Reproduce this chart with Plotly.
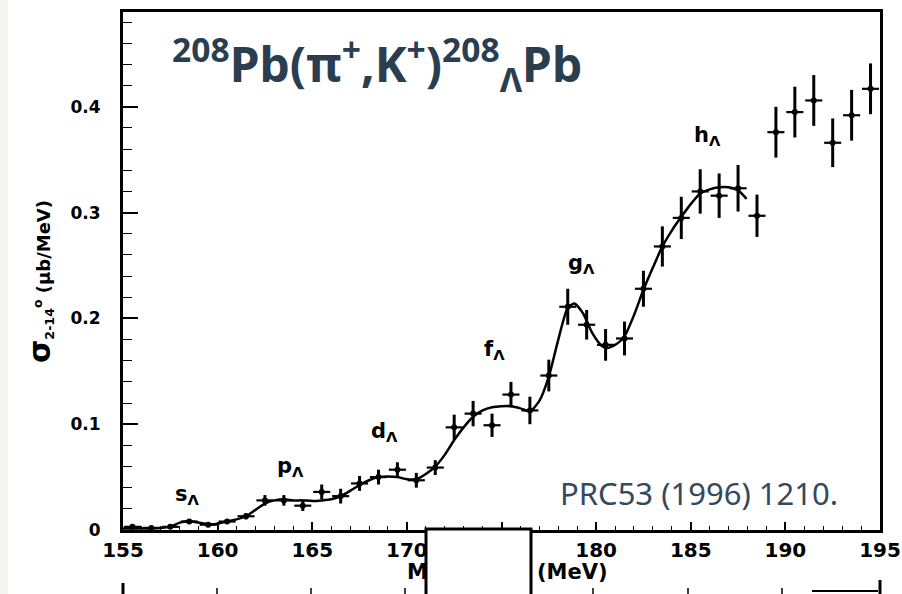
import plotly.graph_objects as go

# ---------------- data ----------------
energy = [155.5, 156.5, 157.5, 158.5, 159.5, 160.5, 161.5, 162.5, 163.5, 164.5,
          165.5, 166.5, 167.5, 168.5, 169.5, 170.5, 171.5, 172.5, 173.5, 174.5,
          175.5, 176.5, 177.5, 178.5, 179.5, 180.5, 181.5, 182.5, 183.5, 184.5,
          185.5, 186.5, 187.5, 188.5, 189.5, 190.5, 191.5, 192.5, 193.5, 194.5]
sigma = [0.003, 0.002, 0.003, 0.008, 0.005, 0.008, 0.013, 0.028, 0.028, 0.023,
         0.036, 0.032, 0.044, 0.050, 0.057, 0.047, 0.059, 0.097, 0.110, 0.099,
         0.128, 0.113, 0.146, 0.211, 0.194, 0.175, 0.181, 0.228, 0.268, 0.295,
         0.320, 0.316, 0.323, 0.297, 0.376, 0.395, 0.406, 0.366, 0.392, 0.417]
sigma_err = [0.002, 0.002, 0.002, 0.002, 0.002, 0.002, 0.003, 0.005, 0.005, 0.005,
             0.007, 0.007, 0.007, 0.007, 0.007, 0.007, 0.007, 0.012, 0.012, 0.011,
             0.012, 0.013, 0.015, 0.017, 0.014, 0.015, 0.016, 0.017, 0.019, 0.020,
             0.021, 0.021, 0.022, 0.020, 0.024, 0.024, 0.024, 0.023, 0.024, 0.024]
energy_err = [0.45] * len(energy)

fit_energy = [155.0, 156.0, 157.0, 157.5, 158.0, 158.5, 159.0, 159.5, 160.0, 160.5,
              161.0, 161.5, 162.0, 162.5, 163.0, 163.5, 164.0, 164.5, 165.0, 165.5,
              166.0, 166.5, 167.0, 167.5, 168.0, 168.5, 169.0, 169.5, 170.0, 170.5,
              171.0, 171.5, 172.0, 172.5, 173.0, 173.5, 174.0, 174.5, 175.0, 175.5,
              176.0, 176.5, 177.0, 177.5, 178.0, 178.5, 178.85, 179.3, 179.8, 180.3,
              180.6, 181.1, 181.5, 182.0, 182.5, 183.0, 183.5, 184.0, 184.5, 185.0,
              185.5, 186.0, 186.5, 187.0, 187.5, 187.95]
fit_sigma = [0.0015, 0.0015, 0.002, 0.003, 0.007, 0.0085, 0.007, 0.0055, 0.006, 0.008,
             0.010, 0.013, 0.019, 0.025, 0.028, 0.029, 0.028, 0.028, 0.0275, 0.028,
             0.029, 0.032, 0.037, 0.0425, 0.047, 0.050, 0.0505, 0.050, 0.048, 0.048,
             0.053, 0.060, 0.071, 0.085, 0.097, 0.107, 0.113, 0.116, 0.117, 0.117,
             0.115, 0.112, 0.122, 0.145, 0.180, 0.210, 0.214, 0.205, 0.186, 0.174,
             0.172, 0.176, 0.183, 0.203, 0.227, 0.248, 0.268, 0.283, 0.296, 0.308,
             0.318, 0.322, 0.324, 0.324, 0.321, 0.313]

x_ticks = [155, 160, 165, 170, 175, 180, 185, 190, 195]
y_ticks = [0, 0.1, 0.2, 0.3, 0.4]
y_tick_text = ["0", "0.1", "0.2", "0.3", "0.4"]

peak_labels = ["s", "p", "d", "f", "g", "h"]
peak_label_x = [157.64, 163.03, 168.0, 173.97, 178.4, 185.07]
peak_label_y = [0.033, 0.0595, 0.0926, 0.170, 0.251, 0.372]

# ---------------- figure ----------------
W, H = 902, 594
L, R, T, B = 123, 22, 12, 64
pw, ph = W - L - R, H - T - B


def px(xp):
    return (xp - L) / pw


def py(yp):
    return (H - B - yp) / ph


AX_FONT = "DejaVu Sans, Liberation Sans, Arial"
fig = go.Figure()

fig.add_trace(go.Scatter(
    x=fit_energy, y=fit_sigma, mode="lines",
    line=dict(color="black", width=2.5, shape="spline", smoothing=0.6),
    hoverinfo="skip", showlegend=False))

fig.add_trace(go.Scatter(
    x=energy, y=sigma, mode="markers",
    marker=dict(color="black", size=6, symbol="circle"),
    error_y=dict(type="data", array=sigma_err, color="black", thickness=3, width=0),
    error_x=dict(type="data", array=energy_err, color="black", thickness=2.2, width=0),
    showlegend=False))

for lab, lx, ly in zip(peak_labels, peak_label_x, peak_label_y):
    fig.add_annotation(x=lx, y=ly, xref="x", yref="y", xanchor="left", yanchor="middle",
                       text=f"<b>{lab}<sub>Λ</sub></b>", showarrow=False,
                       font=dict(family=AX_FONT, size=21, color="black"))

# title and citation
fig.add_annotation(xref="paper", yref="paper", x=px(170), y=py(64), xanchor="left", yanchor="middle",
                   text="<b><sup>208</sup>Pb(π<sup>+</sup>,K<sup>+</sup>)<sup>208</sup><sub>Λ</sub>Pb</b>",
                   showarrow=False, font=dict(family="Noto Sans", size=48, color="#2b3e50"))
fig.add_annotation(xref="paper", yref="paper", x=px(699), y=py(493), xanchor="center", yanchor="middle",
                   text="PRC53 (1996) 1210.", showarrow=False,
                   font=dict(family="Noto Sans", size=31, color="#34495e"))

# axis titles
fig.add_annotation(xref="paper", yref="paper", x=px(39), y=py(282), xanchor="center", yanchor="middle",
                   textangle=-90, showarrow=False,
                   text="<b><span style='font-size:30px'>σ</span><sub>2-14</sub><sup>o</sup> (μb/MeV)</b>",
                   font=dict(family=AX_FONT, size=18, color="black"))
fig.add_annotation(xref="paper", yref="paper", x=px(430), y=py(572), xanchor="right", yanchor="middle",
                   text="<b>M</b>", showarrow=False, font=dict(family=AX_FONT, size=21, color="black"))
fig.add_annotation(xref="paper", yref="paper", x=px(535), y=py(572), xanchor="left", yanchor="middle",
                   text="<b>(MeV)</b>", showarrow=False, font=dict(family=AX_FONT, size=21, color="black"))

shapes = [
    # off-white scan margin on the left
    dict(type="rect", xref="paper", yref="paper", x0=px(0), x1=px(8), y0=py(600), y1=py(-5),
         fillcolor="#f7f3ee", line=dict(width=0), layer="below"),
    # white box covering part of the axis title
    dict(type="rect", xref="paper", yref="paper", x0=px(426), x1=px(531), y0=py(600), y1=py(529),
         fillcolor="white", line=dict(color="black", width=3), layer="above"),
    # top of next panel peeking in at bottom
    dict(type="line", xref="paper", yref="paper", x0=px(123), x1=px(123), y0=py(583), y1=py(600),
         line=dict(color="black", width=3)),
    dict(type="line", xref="paper", yref="paper", x0=px(880), x1=px(880), y0=py(580), y1=py(600),
         line=dict(color="black", width=3)),
    dict(type="line", xref="paper", yref="paper", x0=px(812), x1=px(878), y0=py(591), y1=py(591),
         line=dict(color="black", width=2)),
]
for xp in [217, 311, 405, 593, 688, 782]:
    shapes.append(dict(type="line", xref="paper", yref="paper", x0=px(xp), x1=px(xp),
                       y0=py(588), y1=py(600), line=dict(color="black", width=1.5)))
fig.update_layout(shapes=shapes)

fig.update_xaxes(range=[155, 195], tickvals=x_ticks, ticks="inside", ticklen=8, tickwidth=1.5,
                 tickcolor="black", showline=True, linewidth=3, linecolor="black", mirror=True,
                 showgrid=False, zeroline=False, ticklabelstandoff=0, automargin=False,
                 tickfont=dict(family=AX_FONT, size=20, color="black", weight="bold"),
                 minor=dict(dtick=1, ticks="inside", ticklen=4, tickcolor="black", tickwidth=1.2))
fig.update_yaxes(range=[0, 0.4896], tickvals=y_ticks, ticktext=y_tick_text, ticks="inside",
                 ticklen=15, tickwidth=1.5, tickcolor="black", showline=True, linewidth=3,
                 linecolor="black", mirror=True, showgrid=False, zeroline=False,
                 ticklabelstandoff=16, automargin=False,
                 tickfont=dict(family=AX_FONT, size=17, color="black", weight="bold"),
                 minor=dict(dtick=0.02, ticks="inside", ticklen=9, tickcolor="black", tickwidth=1.2))

fig.update_layout(width=W, height=H, margin=dict(l=L, r=R, t=T, b=B, autoexpand=False),
                  paper_bgcolor="white", plot_bgcolor="white", showlegend=False)

fig.write_html("out.html")
